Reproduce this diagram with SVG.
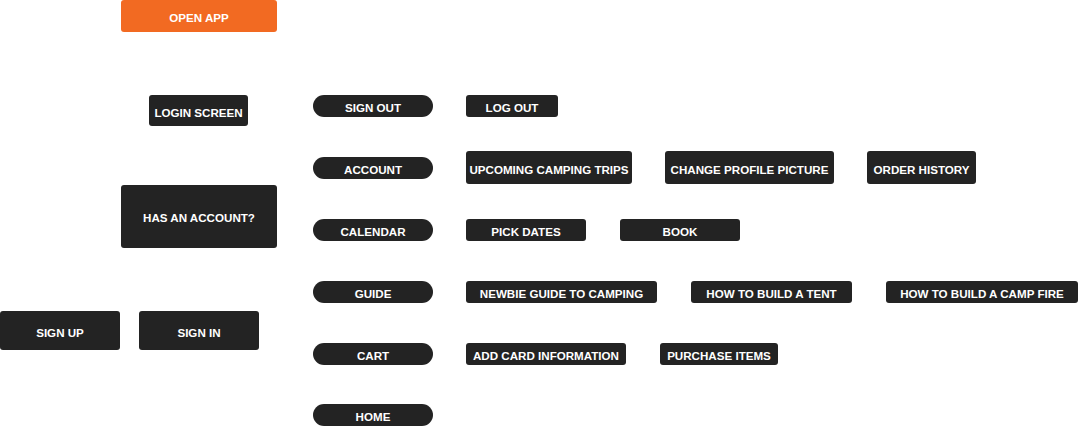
<svg xmlns="http://www.w3.org/2000/svg" width="1080" height="427" viewBox="0 0 1080 427">
<style>
.n{fill:#232323}
.o{fill:#F26A22}
.t{fill:#fff;font-family:"Liberation Sans",Arial,sans-serif;font-weight:bold;font-size:11.6px;text-anchor:middle;dominant-baseline:central}
</style>
<rect width="1080" height="427" fill="#fff"/>
<g id="connectors"></g>
<g id="open-app"><rect class="o" x="121" y="0" width="156" height="32" rx="3"/><text class="t" x="199" y="17">OPEN APP</text></g>
<g id="login-screen"><rect class="n" x="149" y="95" width="99" height="31" rx="3"/><text class="t" x="198.5" y="112">LOGIN SCREEN</text></g>
<g id="has-account"><rect class="n" x="121" y="185" width="156" height="63" rx="3"/><text class="t" x="199" y="217.5">HAS AN ACCOUNT?</text></g>
<g id="sign-up"><rect class="n" x="0" y="311" width="120" height="39" rx="3"/><text class="t" x="60" y="332">SIGN UP</text></g>
<g id="sign-in"><rect class="n" x="139" y="311" width="120" height="39" rx="3"/><text class="t" x="199" y="332">SIGN IN</text></g>
<g id="sign-out"><rect class="n" x="313" y="95" width="120" height="22" rx="11"/><text class="t" x="373" y="107.5">SIGN OUT</text></g>
<g id="account"><rect class="n" x="313" y="157" width="120" height="22" rx="11"/><text class="t" x="373" y="169.5">ACCOUNT</text></g>
<g id="calendar"><rect class="n" x="313" y="219" width="120" height="22" rx="11"/><text class="t" x="373" y="231.5">CALENDAR</text></g>
<g id="guide"><rect class="n" x="313" y="281" width="120" height="22" rx="11"/><text class="t" x="373" y="293.5">GUIDE</text></g>
<g id="cart"><rect class="n" x="313" y="343" width="120" height="22" rx="11"/><text class="t" x="373" y="355.5">CART</text></g>
<g id="home"><rect class="n" x="313" y="404" width="120" height="22" rx="11"/><text class="t" x="373" y="416.5">HOME</text></g>
<g id="log-out"><rect class="n" x="466" y="95" width="92" height="22" rx="3"/><text class="t" x="512" y="107.5">LOG OUT</text></g>
<g id="upcoming"><rect class="n" x="466" y="151" width="166" height="33" rx="3"/><text class="t" x="549" y="169">UPCOMING CAMPING TRIPS</text></g>
<g id="change-profile"><rect class="n" x="665" y="151" width="169" height="33" rx="3"/><text class="t" x="749.5" y="169">CHANGE PROFILE PICTURE</text></g>
<g id="order-history"><rect class="n" x="867" y="151" width="109" height="33" rx="3"/><text class="t" x="921.5" y="169">ORDER HISTORY</text></g>
<g id="pick-dates"><rect class="n" x="466" y="219" width="120" height="22" rx="3"/><text class="t" x="526" y="231.5">PICK DATES</text></g>
<g id="book"><rect class="n" x="620" y="219" width="120" height="22" rx="3"/><text class="t" x="680" y="231.5">BOOK</text></g>
<g id="newbie"><rect class="n" x="466" y="281" width="191" height="22" rx="3"/><text class="t" x="561.5" y="293.5">NEWBIE GUIDE TO CAMPING</text></g>
<g id="tent"><rect class="n" x="691" y="281" width="161" height="22" rx="3"/><text class="t" x="771.5" y="293.5">HOW TO BUILD A TENT</text></g>
<g id="camp-fire"><rect class="n" x="886" y="281" width="192" height="22" rx="3"/><text class="t" x="982" y="293.5">HOW TO BUILD A CAMP FIRE</text></g>
<g id="add-card"><rect class="n" x="466" y="343" width="160" height="22" rx="3"/><text class="t" x="546" y="355.5">ADD CARD INFORMATION</text></g>
<g id="purchase"><rect class="n" x="660" y="343" width="118" height="22" rx="3"/><text class="t" x="719" y="355.5">PURCHASE ITEMS</text></g>
</svg>
